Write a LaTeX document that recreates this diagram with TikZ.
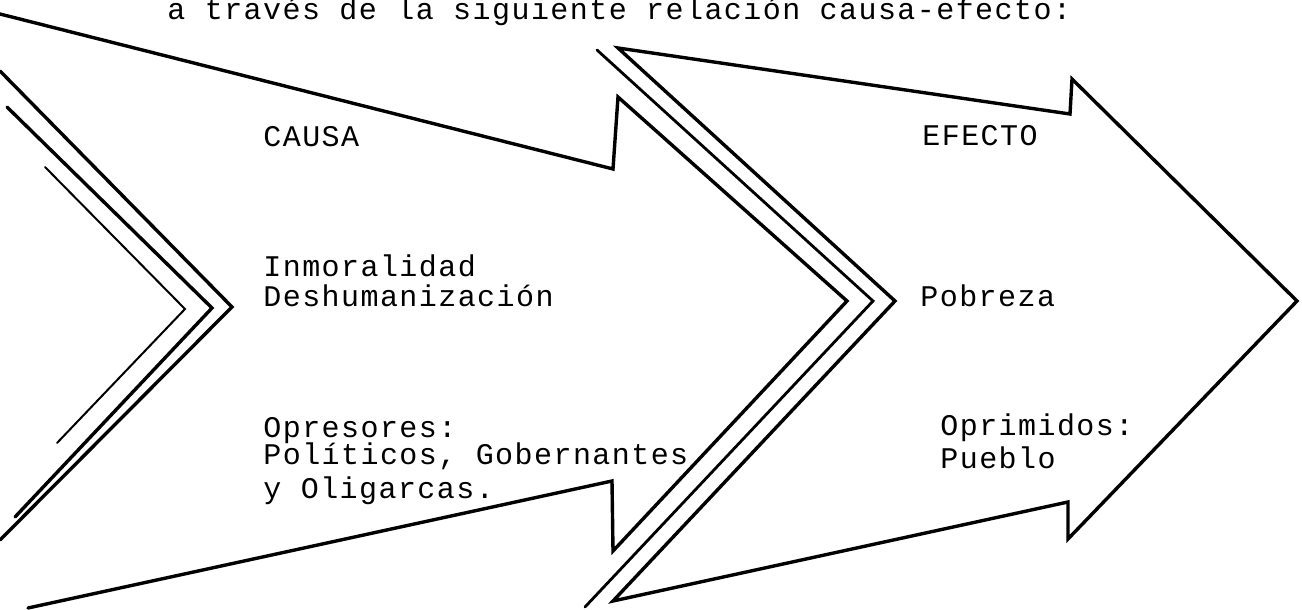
\documentclass[tikz,border=0pt]{standalone}
\usepackage{fontspec}
\newfontfamily\tw[LetterSpace=4.8]{Liberation Mono}
\begin{document}
\begin{tikzpicture}[x=0.5pt,y=-0.5pt,
  edge/.style={line width=1.7pt, line join=miter, line cap=round},
  midline/.style={line width=1.4pt, line join=miter, line cap=round},
  thinline/.style={line width=1.0pt, line join=miter, line cap=round},
  lbl/.style={anchor=base west, inner sep=0pt, font=\tw\fontsize{15pt}{15pt}\selectfont}]
\fill[white] (0,0) rectangle (1302,610);
\clip (0,0) rectangle (1302,610);
% left arrow (cause)
\draw[edge] (0,14) -- (613,169) -- (618,97) -- (847,301) -- (613,551) -- (612,481) -- (28,608);
% tail chevrons on the left
\draw[edge] (0,71) -- (232,307) -- (0,540);
\draw[edge] (7,107) -- (212,308) -- (15,517);
\draw[thinline] (45,167) -- (185,309) -- (57,443);
% middle chevron
\draw[midline] (597,50) -- (873,301) -- (585,607);
% right arrow (effect)
\draw[edge] (618,48) -- (1070,114) -- (1072,79) -- (1297,301) -- (1068,539) -- (1068,502) -- (613,601) -- (895,301) -- cycle;
% texts
\node[lbl] (title) at (167,20) {a través de la siguiente relación causa-efecto:};
\node[lbl] (causa) at (263,147) {CAUSA};
\node[lbl] (efecto) at (922,146) {EFECTO};
\node[lbl] (inmo) at (263,277) {Inmoralidad};
\node[lbl] (desh) at (263,306) {Deshumanización};
\node[lbl] (pobreza) at (920,306) {Pobreza};
\node[lbl] (opre) at (263,437) {Opresores:};
\node[lbl] (poli) at (263,464) {Políticos, Gobernantes};
\node[lbl] (olig) at (263,498) {y Oligarcas.};
\node[lbl] (oprim) at (940,435) {Oprimidos:};
\node[lbl] (pueblo) at (940,468) {Pueblo};
\end{tikzpicture}
\end{document}
